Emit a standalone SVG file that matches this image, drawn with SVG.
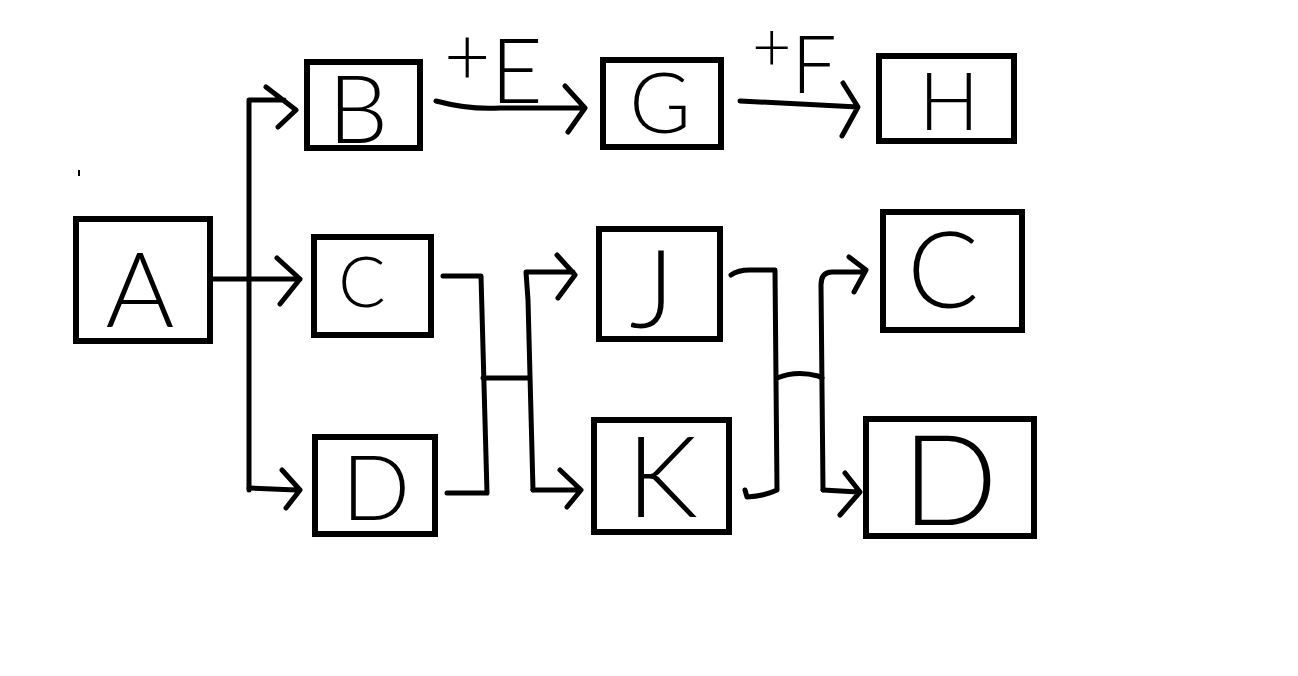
<svg xmlns="http://www.w3.org/2000/svg" width="1298" height="676" viewBox="0 0 1298 676">
<style>
.box{fill:#fff;stroke:#000;stroke-width:6}
.w{fill:none;stroke:#000;stroke-width:5;stroke-linecap:round;stroke-linejoin:round}
.t{font-family:Lato,"Liberation Sans",Arial,sans-serif;font-weight:300;fill:#000;text-anchor:middle}
.l{font-family:Lato,"Liberation Sans",Arial,sans-serif;font-weight:300;fill:#000}
</style>
<rect width="1298" height="676" fill="#fff"/>
<line x1="79" y1="170" x2="79" y2="176" stroke="#000" stroke-width="2"/>
<g id="connectors">
<path class="w" d="M210 279 L300 279 M277 258 L300 279 L280 304"/>
<path class="w" d="M249 490 L249 100 L284 100 M266 87 L296 110 L278 127"/>
<path class="w" d="M249 488 L296 490 M282 470 L300 490 L286 508"/>
<path class="w" d="M436 101 Q470 110 500 108 L583 108 M565 86 L585 108 L568 132"/>
<path class="w" d="M740 101 L858 107 M843 83 L858 107 L842 136"/>
<path class="w" d="M443 276 L481 276 L487 493 L447 493"/>
<path class="w" d="M483 378 L528 378"/>
<path class="w" d="M533 490 L528 300 L526 272 L573 272 M557 255 L575 275 L558 298"/>
<path class="w" d="M533 490 L579 490 M560 470 L581 490 L567 507"/>
<path class="w" d="M731 275 Q738 270 750 270 L775 270 L777 490 Q765 496 747 497 L745 490"/>
<path class="w" d="M777 378 Q796 370 818 376 L822 378"/>
<path class="w" d="M823 490 L821 285 Q821 272 832 272 L862 272 M849 257 L866 270 L854 292"/>
<path class="w" d="M823 490 L858 492 M845 473 L860 492 L840 515"/>
</g>
<g id="node-A"><rect class="box" x="76" y="219" width="134" height="122"/><text class="t" x="140" y="327" font-size="105">A</text></g>
<g id="node-B"><rect class="box" x="307" y="62" width="113" height="86"/><text class="t" x="358" y="143" font-size="95">B</text></g>
<g id="node-C"><rect class="box" x="314" y="237" width="117" height="98"/><text class="t" x="362" y="307" font-size="70">C</text></g>
<g id="node-D"><rect class="box" x="315" y="437" width="120" height="97"/><text class="t" x="376" y="520" font-size="90">D</text></g>
<g id="node-G"><rect class="box" x="603" y="60" width="118" height="87"/><text class="t" x="660" y="133" font-size="84">G</text></g>
<g id="node-H"><rect class="box" x="879" y="56" width="135" height="85"/><text class="t" x="949" y="130" font-size="80">H</text></g>
<g id="node-J"><rect class="box" x="599" y="229" width="121" height="110"/><text class="t" x="652" y="328" font-size="108">J</text></g>
<g id="node-K"><rect class="box" x="594" y="420" width="135" height="112"/><text class="t" x="662" y="517" font-size="112">K</text></g>
<g id="node-C2"><rect class="box" x="883" y="212" width="139" height="118"/><text class="t" x="943" y="308" font-size="106">C</text></g>
<g id="node-D2"><rect class="box" x="866" y="419" width="168" height="117"/><text class="t" x="950" y="525" font-size="126">D</text></g>
<g id="label-E"><text class="l" x="444" y="103" font-size="90"><tspan font-size="80" dy="-18">+</tspan><tspan dy="18">E</tspan></text></g>
<g id="label-F"><text class="l" x="752" y="93" font-size="80"><tspan font-size="68" dy="-22">+</tspan><tspan dy="22">F</tspan></text></g>
</svg>
